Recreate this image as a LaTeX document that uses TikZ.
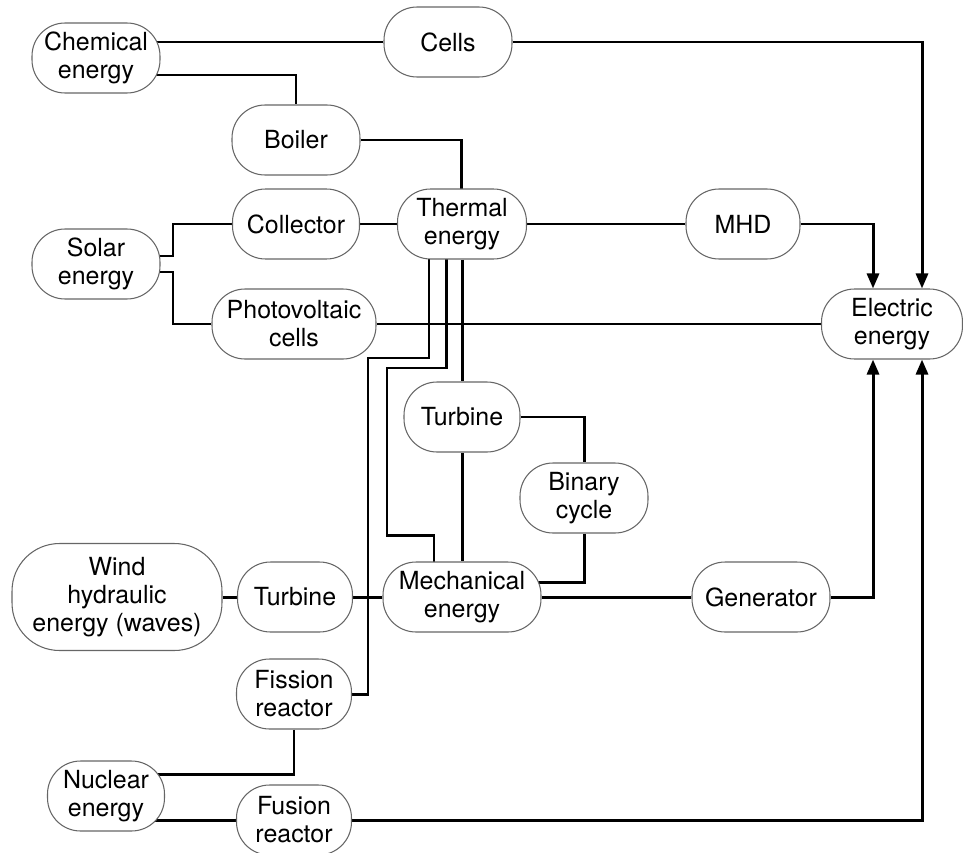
\documentclass[tikz,border=0pt]{standalone}
\usepackage{fontspec}
\setmainfont{TeX Gyre Heros}
\usepackage{tikz}
\usetikzlibrary{arrows.meta,calc,backgrounds}

\begin{document}
\begin{tikzpicture}[x=0.02cm,y=-0.02cm,
  font=\fontsize{14.2pt}{16pt}\selectfont,
  box/.style={draw=black!60,line width=0.6pt,fill=white,rounded corners=0.66cm,
    minimum height=1.4cm,minimum width=#1,inner sep=0pt,align=center},
  wire/.style={line width=1.7pt},
  arr/.style={wire,-{Triangle[length=0.3cm,width=0.24cm]}}]
\useasboundingbox (0,0) rectangle (963,852);
\node[box=2.56cm] (chem) at (96,58) {Chemical\\energy};
\node[box=2.56cm] (cells) at (448,42) {Cells};
\node[box=2.56cm] (boiler) at (296,140) {Boiler};
\node[box=2.54cm] (collector) at (296,224) {Collector};
\node[box=2.56cm] (solar) at (96,264) {Solar\\energy};
\node[box=3.28cm] (pv) at (294,324) {Photovoltaic\\cells};
\node[box=2.58cm] (thermal) at (462,224) {Thermal\\energy};
\node[box=2.28cm] (mhd) at (743,224) {MHD};
\node[box=2.82cm] (elec) at (892,324) {Electric\\energy};
\node[box=2.32cm] (turbA) at (462,417) {Turbine};
\node[box=2.56cm] (binary) at (584,498) {Binary\\cycle};
\node[box=3.16cm] (mech) at (462,597) {Mechanical\\energy};
\node[box=4.2cm,minimum height=2.14cm,rounded corners=0.95cm] (wind) at (117,597) {Wind\\hydraulic\\energy (waves)};
\node[box=2.3cm] (turbB) at (295,597) {Turbine};
\node[box=2.76cm] (gen) at (761,597) {Generator};
\node[box=2.3cm] (fission) at (294,694) {Fission\\reactor};
\node[box=2.34cm] (nuclear) at (106,796) {Nuclear\\energy};
\node[box=2.3cm] (fusion) at (294,820) {Fusion\\reactor};
\begin{scope}[on background layer]
\draw[wire] (chem.center |- cells) -- (cells);
\draw[arr] (cells) -| ($(elec.north)+(30,0)$);
\draw[wire] ($(chem)+(0,17)$) -| (boiler);
\draw[wire] (boiler) -| ($(thermal)+(-1,0)$);
\draw[wire] ($(solar)+(0,-8)$) -- ++(77,0) |- (collector);
\draw[wire] ($(solar)+(0,8)$) -- ++(77,0) |- (pv);
\draw[wire] (collector) -- (thermal) -- (mhd);
\draw[arr] (mhd) -| ($(elec.north)+(-19,0)$);
\draw[wire] (pv) -- (elec);
\draw[wire] (thermal) -- (turbA) -- (mech);
\draw[wire] ($(thermal)+(-16,0)$) -- ++(0,144) -- ++(-59,0) -- ++(0,167) -| ($(mech)+(-28,0)$);
\draw[wire] ($(thermal)+(-33,0)$) -- ++(0,134) -- ++(-61,0) |- (fission);
\draw[wire] (turbA) -| (binary);
\draw[wire] (binary) |- ($(mech)+(0,-15)$);
\draw[wire] (wind) -- (turbB) -- (mech) -- (gen);
\draw[arr] (gen) -| ($(elec.south)+(-19,0)$);
\draw[wire] (fission) |- ($(nuclear)+(0,-22)$);
\draw[wire] ($(nuclear)+(0,24)$) -- (fusion);
\draw[arr] (fusion) -| ($(elec.south)+(30,0)$);
\end{scope}
\end{tikzpicture}
\end{document}
